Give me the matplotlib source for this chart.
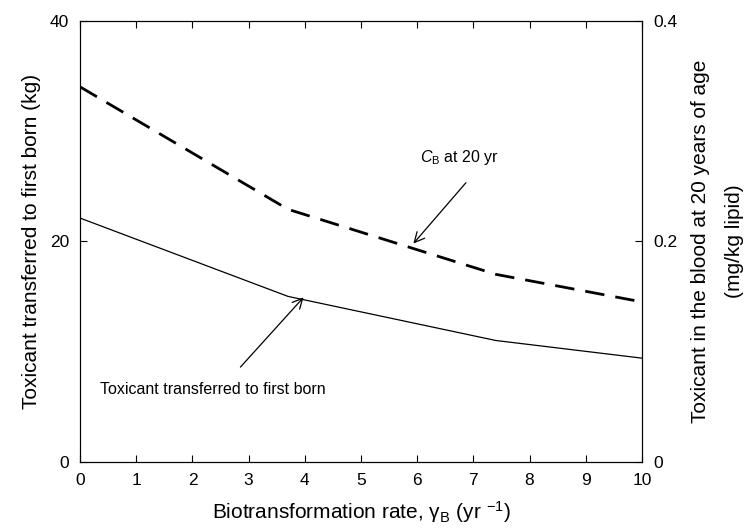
import numpy as np
import matplotlib
matplotlib.use('Agg')
import matplotlib.pyplot as plt

plt.rcParams['font.family'] = ['Liberation Sans', 'DejaVu Sans']
plt.rcParams['mathtext.fontset'] = 'custom'
plt.rcParams['mathtext.rm'] = 'Liberation Sans'
plt.rcParams['mathtext.it'] = 'Liberation Sans:italic'

# biotransformation rate (yr^-1)
rate = [0, 3.7, 7.4, 10]
# toxicant transferred to first born (kg), left axis
transferred = [22.1, 15.0, 11.0, 9.4]
# toxicant in blood at 20 yr (mg/kg lipid), right axis
blood = [0.340, 0.229, 0.170, 0.145]

fig = plt.figure(figsize=(7.49, 5.32), dpi=100)
ax = fig.add_axes([0.107, 0.132, 0.75, 0.829])
ax2 = ax.twinx()

ax.plot(rate, transferred, color='k', lw=0.9)
ax2.plot(rate, blood, color='k', lw=2.0, dashes=(7, 4))

ax.set_xlim(0, 10)
ax.set_ylim(0, 40)
ax2.set_ylim(0, 0.4)
ax.set_xticks(range(0, 11))
ax.set_yticks([0, 20, 40])
ax2.set_yticks([0, 0.2, 0.4])
ax2.set_yticklabels(['0', '0.2', '0.4'])

ax.tick_params(direction='in', length=5, top=True, labelsize=12.5, pad=8)
ax2.tick_params(direction='in', length=5, labelsize=12.5, pad=8)

ax.set_xlabel('Biotransformation rate, γ$_{\\rm B}$ (yr $^{-1}$)', fontsize=15, labelpad=8)
ax.set_ylabel('Toxicant transferred to first born (kg)', fontsize=15, labelpad=6)
ax2.set_ylabel('Toxicant in the blood at 20 years of age\n(mg/kg lipid)', fontsize=15,
               labelpad=10, linespacing=2.0)

ax.annotate('', xy=(5.9, 19.6), xytext=(6.9, 25.5),
            arrowprops=dict(arrowstyle='->', color='k', lw=0.9, mutation_scale=18))
ax.text(6.75, 27.6, r'$C_{\rm B}$ at 20 yr', fontsize=11.5, ha='center', va='center')

ax.annotate('', xy=(4.01, 15.1), xytext=(2.82, 8.4),
            arrowprops=dict(arrowstyle='->', color='k', lw=0.9, mutation_scale=18))
ax.text(0.36, 6.6, 'Toxicant transferred to first born', fontsize=11.5, ha='left', va='center')

fig.savefig('out.png', dpi=100)
